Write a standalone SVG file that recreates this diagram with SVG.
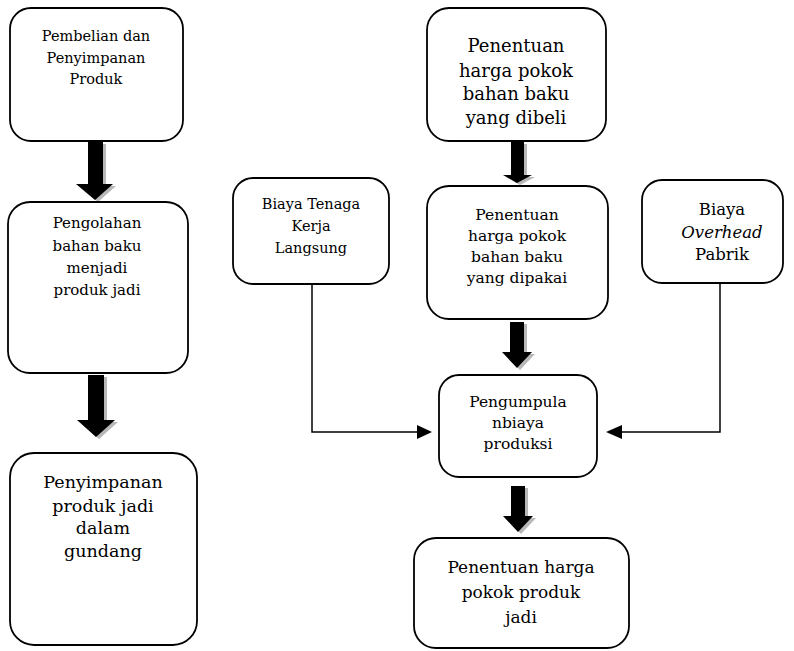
<svg xmlns="http://www.w3.org/2000/svg" width="794" height="651" viewBox="0 0 794 651">
<defs>
<style>
.box{fill:#fff;stroke:#000;stroke-width:1.8}
.t{font-family:"DejaVu Serif","Liberation Serif",serif;fill:#000;text-anchor:middle}
.ln{fill:none;stroke:#000;stroke-width:1.5}
.ah{fill:#000}
.sh{fill:#b8b8b8}
</style>
</defs>
<rect width="794" height="651" fill="#fff"/>

<g id="connectors">
<g id="a1">
<polygon class="sh" points="91,144 106,144 106,186 116,186 98,202 79,186 91,186"/>
<polygon class="ah" points="88,142 103,142 103,184 113,184 95,200 76,184 88,184"/>
</g>
<g id="a2">
<polygon class="sh" points="91,377 107,377 107,422 118,422 99,439 80,422 91,422"/>
<polygon class="ah" points="88,375 104,375 104,420 115,420 96,437 77,420 88,420"/>
</g>
<g id="a3">
<polygon class="sh" points="514,144 527,144 527,177 535,177 520,185 506,177 514,177"/>
<polygon class="ah" points="511,142 524,142 524,175 532,175 517,183 503,175 511,175"/>
</g>
<g id="a4">
<polygon class="sh" points="513,324 527,324 527,354 535,354 520,370 505,354 513,354"/>
<polygon class="ah" points="510,322 524,322 524,352 532,352 517,368 502,352 510,352"/>
</g>
<g id="a5">
<polygon class="sh" points="514,488 528,488 528,518 536,518 521,534 506,518 514,518"/>
<polygon class="ah" points="511,486 525,486 525,516 533,516 518,532 503,516 511,516"/>
</g>
<g id="c1">
<polyline class="ln" points="312,284 312,432 418,432"/>
<polygon class="ah" points="417,425 432,432 417,439"/>
</g>
<g id="c2">
<polyline class="ln" points="720,283 720,432 621,432"/>
<polygon class="ah" points="622,425 606,432 622,439"/>
</g>
</g>

<g id="n1">
<rect class="box" x="10" y="8" width="173" height="133" rx="21"/>
<text class="t" font-size="14.5" x="96" y="41">Pembelian dan</text>
<text class="t" font-size="14.5" x="96" y="63">Penyimpanan</text>
<text class="t" font-size="14.5" x="96" y="84">Produk</text>
</g>

<g id="n2">
<rect class="box" x="8" y="202" width="180" height="171" rx="22"/>
<text class="t" font-size="15" x="97" y="228">Pengolahan</text>
<text class="t" font-size="15" x="97" y="251">bahan baku</text>
<text class="t" font-size="15" x="97" y="273">menjadi</text>
<text class="t" font-size="15" x="97" y="295">produk jadi</text>
</g>

<g id="n3">
<rect class="box" x="10" y="453" width="187" height="192" rx="24"/>
<text class="t" font-size="17.5" x="103" y="488">Penyimpanan</text>
<text class="t" font-size="17.5" x="103" y="512">produk jadi</text>
<text class="t" font-size="17.5" x="103" y="534">dalam</text>
<text class="t" font-size="17.5" x="103" y="557">gundang</text>
</g>

<g id="n4">
<rect class="box" x="427" y="8" width="179" height="133" rx="22"/>
<text class="t" font-size="18" x="516" y="52">Penentuan</text>
<text class="t" font-size="18" x="516" y="77">harga pokok</text>
<text class="t" font-size="18" x="516" y="100">bahan baku</text>
<text class="t" font-size="18" x="516" y="124">yang dibeli</text>
</g>

<g id="n5">
<rect class="box" x="427" y="186" width="181" height="133" rx="22"/>
<text class="t" font-size="15.5" x="517" y="220">Penentuan</text>
<text class="t" font-size="15.5" x="517" y="241">harga pokok</text>
<text class="t" font-size="15.5" x="517" y="262">bahan baku</text>
<text class="t" font-size="15.5" x="517" y="283">yang dipakai</text>
</g>

<g id="n6">
<rect class="box" x="439" y="375" width="158" height="102" rx="20"/>
<text class="t" font-size="15.5" x="518" y="407">Pengumpula</text>
<text class="t" font-size="15.5" x="518" y="428">nbiaya</text>
<text class="t" font-size="15.5" x="518" y="449">produksi</text>
</g>

<g id="n7">
<rect class="box" x="414" y="538" width="215" height="110" rx="22"/>
<text class="t" font-size="17" x="521" y="573">Penentuan harga</text>
<text class="t" font-size="17" x="521" y="598">pokok produk</text>
<text class="t" font-size="17" x="521" y="623">jadi</text>
</g>

<g id="n8">
<rect class="box" x="233" y="178" width="156" height="106" rx="20"/>
<text class="t" font-size="14.5" x="311" y="209">Biaya Tenaga</text>
<text class="t" font-size="14.5" x="311" y="231">Kerja</text>
<text class="t" font-size="14.5" x="311" y="253">Langsung</text>
</g>

<g id="n9">
<rect class="box" x="642" y="180" width="141" height="103" rx="20"/>
<text class="t" font-size="16.5" x="722" y="215">Biaya</text>
<text class="t" font-size="16.5" x="722" y="238" font-style="italic">Overhead</text>
<text class="t" font-size="16.5" x="722" y="260">Pabrik</text>
</g>
</svg>
